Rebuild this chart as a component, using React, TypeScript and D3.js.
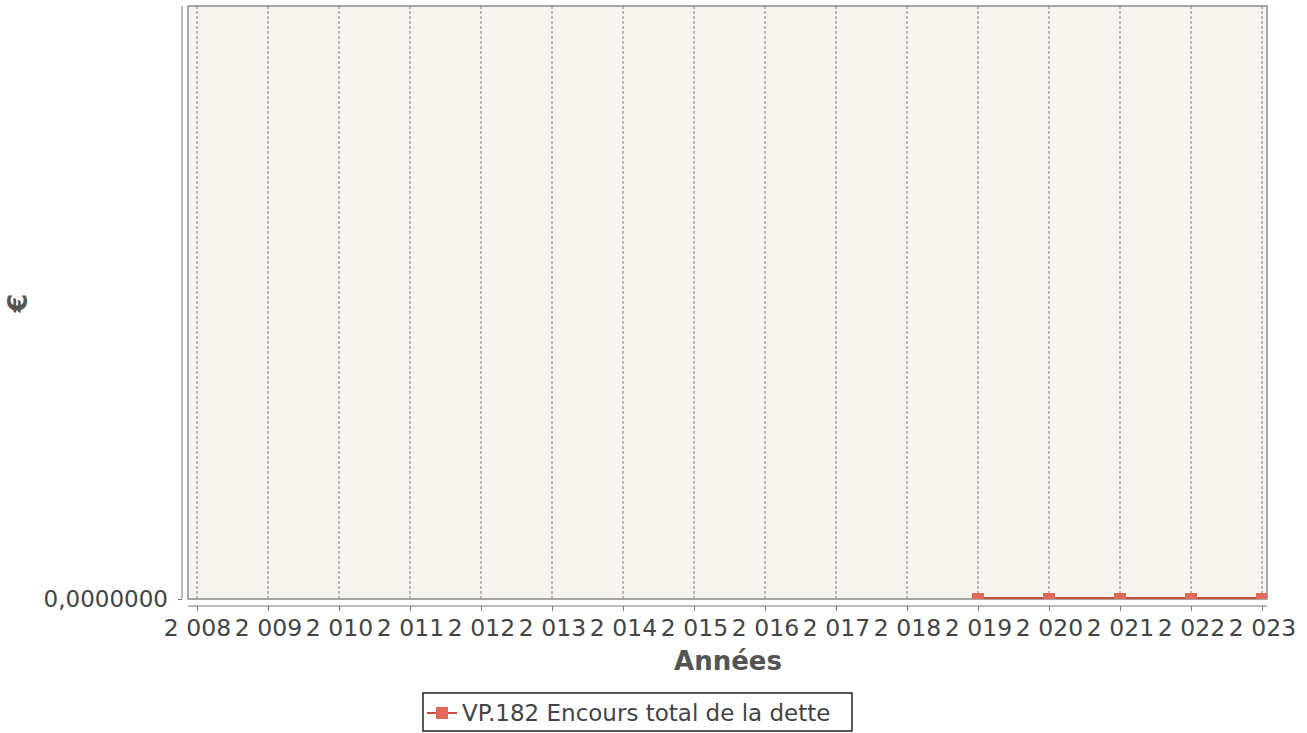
import { useEffect, useRef } from 'react';
import * as d3 from "d3";

// données
const years: number[] = [2008, 2009, 2010, 2011, 2012, 2013, 2014, 2015, 2016, 2017, 2018, 2019, 2020, 2021, 2022, 2023];
const encoursDette: (number | null)[] = [null, null, null, null, null, null, null, null, null, null, null, 0, 0, 0, 0, 0];
const yTicks: number[] = [0];
const seriesName = "VP.182 Encours total de la dette";

const App: React.FC = () => {
    const ref = useRef<SVGSVGElement | null>(null);

    useEffect(() => {
        if (!ref.current) return;
        const width = 1307;
        const height = 733;
        const plot = { left: 188, right: 1267, top: 6, bottom: 599 };
        const red = "#e0695a";
        const font = "'DejaVu Sans', sans-serif";

        const svg = d3.select(ref.current)
            .attr("width", width)
            .attr("height", height);
        svg.selectAll("*").remove();

        // échelles
        const x = d3.scaleLinear()
            .domain([2008, 2023])
            .range([197, 1262]);
        const y = d3.scaleLinear()
            .domain([0, 1])
            .range([plot.bottom, plot.top]);

        svg.append("defs").append("clipPath").attr("id", "plotclip")
            .append("rect")
            .attr("x", plot.left).attr("y", plot.top)
            .attr("width", plot.right - plot.left).attr("height", plot.bottom - plot.top);

        // fond du graphique
        svg.append("rect")
            .attr("x", plot.left).attr("y", plot.top)
            .attr("width", plot.right - plot.left).attr("height", plot.bottom - plot.top)
            .attr("fill", "#f5f4ee");

        // grille verticale
        svg.append("g").selectAll("line")
            .data(years)
            .enter()
            .append("line")
            .attr("x1", d => x(d)).attr("x2", d => x(d))
            .attr("y1", plot.top).attr("y2", plot.bottom)
            .attr("stroke", "#b49cae")
            .attr("stroke-width", 1.5)
            .attr("stroke-dasharray", "3,2");

        // bordure
        svg.append("rect")
            .attr("x", plot.left).attr("y", plot.top)
            .attr("width", plot.right - plot.left).attr("height", plot.bottom - plot.top)
            .attr("fill", "none")
            .attr("stroke", "#8a8a8a")
            .attr("stroke-width", 1.5);

        // série
        const pts = years.map((yr, i) => ({ yr, v: encoursDette[i] }))
            .filter(d => d.v !== null) as { yr: number, v: number }[];
        const line = d3.line<{ yr: number, v: number }>()
            .x(d => x(d.yr))
            .y(d => y(d.v) - 1);
        const series = svg.append("g").attr("clip-path", "url(#plotclip)");
        series.append("path")
            .datum(pts)
            .attr("fill", "none")
            .attr("stroke", "#c8503f")
            .attr("stroke-width", 2)
            .attr("d", line);
        series.selectAll("rect")
            .data(pts)
            .enter()
            .append("rect")
            .attr("x", d => x(d.yr) - 6)
            .attr("y", d => y(d.v) - 6)
            .attr("width", 12)
            .attr("height", 12)
            .attr("fill", red);

        // axe x
        const xAxis = svg.append("g")
            .attr("transform", `translate(0, 606)`)
            .call(d3.axisBottom(x)
                .tickValues(years)
                .tickSize(5)
                .tickSizeOuter(0)
                .tickFormat(d => d3.format(",")(+d).replace(",", " ")));
        xAxis.select(".domain").attr("stroke", "#777").attr("d", `M${plot.left},0H${plot.right}`);
        xAxis.selectAll(".tick line").attr("stroke", "#777");
        xAxis.selectAll("text")
            .attr("font-family", font)
            .attr("font-size", "23.5px")
            .attr("fill", "#444")
            .attr("dy", "0.95em");

        // axe y
        const yAxis = svg.append("g")
            .attr("transform", `translate(182, 0)`)
            .call(d3.axisLeft(y)
                .tickValues(yTicks)
                .tickSize(4)
                .tickSizeOuter(0)
                .tickFormat(d => d3.format(".7f")(+d).replace(".", ",")));
        yAxis.select(".domain").attr("stroke", "#777").attr("d", `M0,${plot.top}V${plot.bottom}`);
        yAxis.selectAll(".tick line").attr("stroke", "#777");
        yAxis.selectAll("text")
            .attr("font-family", font)
            .attr("font-size", "23px")
            .attr("fill", "#444")
            .attr("x", -14);

        // titres des axes
        svg.append("text")
            .attr("x", 728).attr("y", 670)
            .attr("text-anchor", "middle")
            .attr("font-family", font)
            .attr("font-weight", "bold")
            .attr("font-size", "26px")
            .attr("fill", "#555")
            .text("Années");
        svg.append("text")
            .attr("transform", "translate(27, 303) rotate(-90)")
            .attr("text-anchor", "middle")
            .attr("font-family", font)
            .attr("font-weight", "bold")
            .attr("font-size", "27px")
            .attr("fill", "#555")
            .text("€");

        // légende
        const lg = svg.append("g");
        lg.append("rect")
            .attr("x", 423).attr("y", 693)
            .attr("width", 429).attr("height", 38)
            .attr("fill", "white")
            .attr("stroke", "#222")
            .attr("stroke-width", 1.5);
        lg.append("line")
            .attr("x1", 427).attr("x2", 457)
            .attr("y1", 713).attr("y2", 713)
            .attr("stroke", "#c8503f")
            .attr("stroke-width", 2);
        lg.append("rect")
            .attr("x", 436).attr("y", 707)
            .attr("width", 12).attr("height", 12)
            .attr("fill", red);
        lg.append("text")
            .attr("x", 462).attr("y", 721)
            .attr("font-family", font)
            .attr("font-size", "23px")
            .attr("fill", "#444")
            .text(seriesName);
    }, []);

    return (
        <svg ref={ref} style={{ position: "absolute", left: 0, top: 0, background: "white" }}></svg>
    );
}

export default App;
